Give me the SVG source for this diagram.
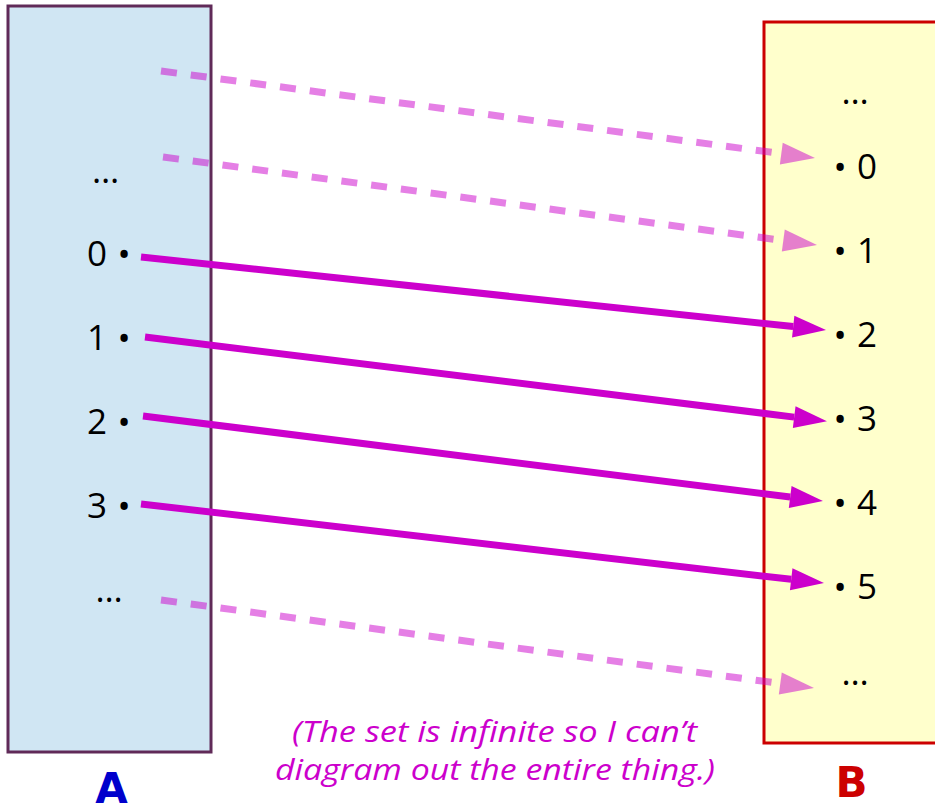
<svg xmlns="http://www.w3.org/2000/svg" width="935" height="805" viewBox="0 0 935 805">
<style>
.t{font-family:"Open Sans","Noto Sans","DejaVu Sans",sans-serif;font-size:35px;fill:#000}
.b{font-family:"Open Sans","Noto Sans","DejaVu Sans",sans-serif;font-size:35px;fill:#000;text-anchor:middle}
.solid{stroke:#cc00cc;stroke-width:7;fill:none}
.dash{stroke:#cc00cc;stroke-opacity:0.5;stroke-width:7;stroke-dasharray:16 14;fill:none}
.cap{font-family:"Open Sans","Noto Sans",sans-serif;font-style:italic;font-size:30px;fill:#cc00cc}
.lbl{font-family:"DejaVu Sans","Liberation Sans",sans-serif;font-weight:bold;font-size:42px;text-anchor:middle}
</style>
<defs>
<marker id="hs" markerUnits="userSpaceOnUse" markerWidth="36" markerHeight="26" refX="0" refY="13" orient="auto" overflow="visible">
<path d="M0,2 L33,13 L0,24 z" fill="#cc00cc"/>
</marker>
<marker id="hd" markerUnits="userSpaceOnUse" markerWidth="36" markerHeight="26" refX="0" refY="13" orient="auto" overflow="visible">
<path d="M0,2 L34,13 L0,24 z" fill="#cc00cc" fill-opacity="0.5"/>
</marker>
</defs>
<g id="setA">
<rect x="8" y="6" width="203" height="746" fill="#d0e6f3" stroke="#602a58" stroke-width="3"/>
<text class="b" x="105.5" y="182.5">…</text>
<text class="t" x="87" y="266">0</text><text class="b" x="124" y="266.6">•</text>
<text class="t" x="87" y="350">1</text><text class="b" x="124" y="350.6">•</text>
<text class="t" x="87" y="434">2</text><text class="b" x="124" y="434.6">•</text>
<text class="t" x="87" y="518">3</text><text class="b" x="124" y="518.6">•</text>
<text class="b" x="109" y="602">…</text>
<text class="lbl" x="111.5" y="803" fill="#0000cc">A</text>
</g>
<g id="setB">
<rect x="764" y="22" width="200" height="721" fill="#ffffcc" stroke="#cc0000" stroke-width="3"/>
<text class="b" x="855" y="104">…</text>
<text class="b" x="840" y="179.6">•</text><text class="t" x="857" y="179">0</text>
<text class="b" x="840" y="263.6">•</text><text class="t" x="857" y="263">1</text>
<text class="b" x="840" y="347.6">•</text><text class="t" x="857" y="347">2</text>
<text class="b" x="840" y="431.6">•</text><text class="t" x="857" y="431">3</text>
<text class="b" x="840" y="515.6">•</text><text class="t" x="857" y="515">4</text>
<text class="b" x="840" y="599.6">•</text><text class="t" x="857" y="599">5</text>
<text class="b" x="855" y="685">…</text>
<text class="lbl" x="851.5" y="797" fill="#cc0000">B</text>
</g>
<g id="connectors">
<line class="dash" x1="161" y1="71" x2="781.3" y2="153.6" marker-end="url(#hd)"/>
<line class="dash" x1="163" y1="157" x2="783.3" y2="240.5" marker-end="url(#hd)"/>
<line class="dash" x1="161" y1="600" x2="780.3" y2="683.5" marker-end="url(#hd)"/>
<line class="solid" x1="141" y1="257" x2="793.2" y2="326.6" marker-end="url(#hs)"/>
<line class="solid" x1="145" y1="337" x2="794.2" y2="417.1" marker-end="url(#hs)"/>
<line class="solid" x1="143" y1="416" x2="790.2" y2="497" marker-end="url(#hs)"/>
<line class="solid" x1="141" y1="504" x2="791.2" y2="579.3" marker-end="url(#hs)"/>
</g>
<g id="caption">
<text class="cap" x="292" y="742" textLength="405" lengthAdjust="spacingAndGlyphs">(The set is infinite so I can’t</text>
<text class="cap" x="275" y="780" textLength="440" lengthAdjust="spacingAndGlyphs">diagram out the entire thing.)</text>
</g>
</svg>
